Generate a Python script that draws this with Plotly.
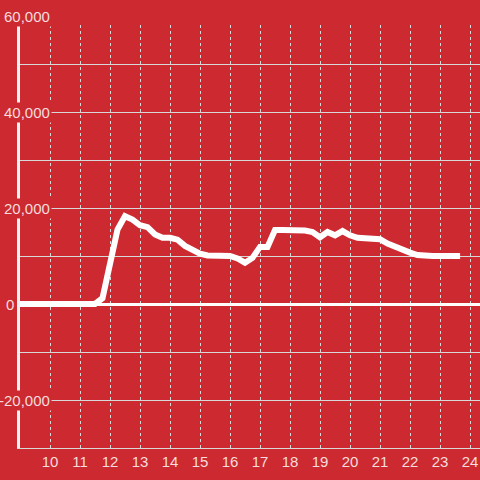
"""
Hourly line chart on a red background
"""

import plotly.graph_objects as go

# hour of day (decimal) and value at each point
hours = [9.0, 11.5, 11.75, 12.0, 12.25, 12.5, 12.75, 13.0, 13.25, 13.5,
         13.75, 14.0, 14.25, 14.5, 14.75, 15.0, 15.25, 15.5, 15.75, 16.0,
         16.25, 16.5, 16.75, 17.0, 17.25, 17.5, 17.75, 18.0, 18.25, 18.5,
         18.75, 19.0, 19.25, 19.5, 19.75, 20.0, 20.25, 20.5, 20.75, 21.0,
         21.25, 21.5, 21.75, 22.0, 22.25, 22.5, 22.75, 23.0, 23.25, 23.5,
         23.67]
values = [0, 0, 1200, 8000, 15500, 18300, 17600, 16400, 16000, 14500,
          13800, 13800, 13400, 12100, 11200, 10500, 10100, 10000, 10000, 10000,
          9500, 8600, 9600, 11900, 11900, 15400, 15400, 15400, 15300, 15300,
          15000, 13900, 15000, 14300, 15200, 14300, 13800, 13800, 13500, 13500,
          12600, 11900, 11400, 10700, 10200, 10000, 10000, 10000, 10000, 10000,
          10000]

x_ticks = list(range(10, 25))
y_labels = [60000, 40000, 20000, 0, -20000]

BG = "#cc2a30"
TEXT = "#f6dcdc"
GRID = "#d8d8d8"
FONT = "Liberation Sans, Arial, sans-serif"

W, H = 480, 480
M_L, M_R, M_T, M_B = 20, 0, 16, 32
PLOT_W = W - M_L - M_R
PX_PER_HOUR = 30


def px_to_paper_x(px):
    return (px - M_L) / PLOT_W


fig = go.Figure()

fig.add_trace(go.Scatter(
    x=hours,
    y=values,
    mode="lines",
    line=dict(color="white", width=6),
    hoverinfo="skip",
))

# dashed vertical grid, stopping a little below the top
# (half-pixel nudge keeps the 1px line crisp)
half_px = 0.5 / PX_PER_HOUR
for h in x_ticks:
    fig.add_shape(
        type="line", xref="x", yref="paper",
        x0=h + half_px, x1=h + half_px, y0=0, y1=(448 - 24) / 432,
        line=dict(color=GRID, width=1, dash="3px,3px"),
        layer="below",
    )

# y labels drawn over the axis with a background box
for v in y_labels:
    px = 16 if v == 0 else 52
    fig.add_annotation(
        x=px_to_paper_x(px), xref="paper", xanchor="right",
        y=v, yref="y", yanchor="middle",
        text=f"{v:,}", showarrow=False,
        font=dict(color=TEXT, size=15, family=FONT),
        bgcolor=BG, borderpad=1,
    )

fig.update_layout(
    width=W,
    height=H,
    margin=dict(l=M_L, r=M_R, t=M_T, b=M_B, autoexpand=False),
    paper_bgcolor=BG,
    plot_bgcolor=BG,
    showlegend=False,
    font=dict(family=FONT, color=TEXT, size=15),
)

fig.update_xaxes(
    range=[9, 9 + PLOT_W / PX_PER_HOUR],
    tickvals=x_ticks,
    showgrid=False,
    showline=True,
    linecolor=GRID,
    linewidth=1,
    ticks="",
    zeroline=False,
    automargin=False,
    tickfont=dict(color=TEXT, size=15, family=FONT),
)

fig.update_yaxes(
    range=[-30000, 60000],
    dtick=10000,
    showgrid=True,
    gridcolor=GRID,
    gridwidth=1,
    showline=True,
    linecolor="#f2f2f2",
    linewidth=3,
    zeroline=True,
    zerolinecolor="white",
    zerolinewidth=3,
    showticklabels=False,
    ticks="",
    automargin=False,
)

fig.write_html(
    "out.html",
    config={"displayModeBar": False},
    post_script="document.body.style.margin = '0';",
)
